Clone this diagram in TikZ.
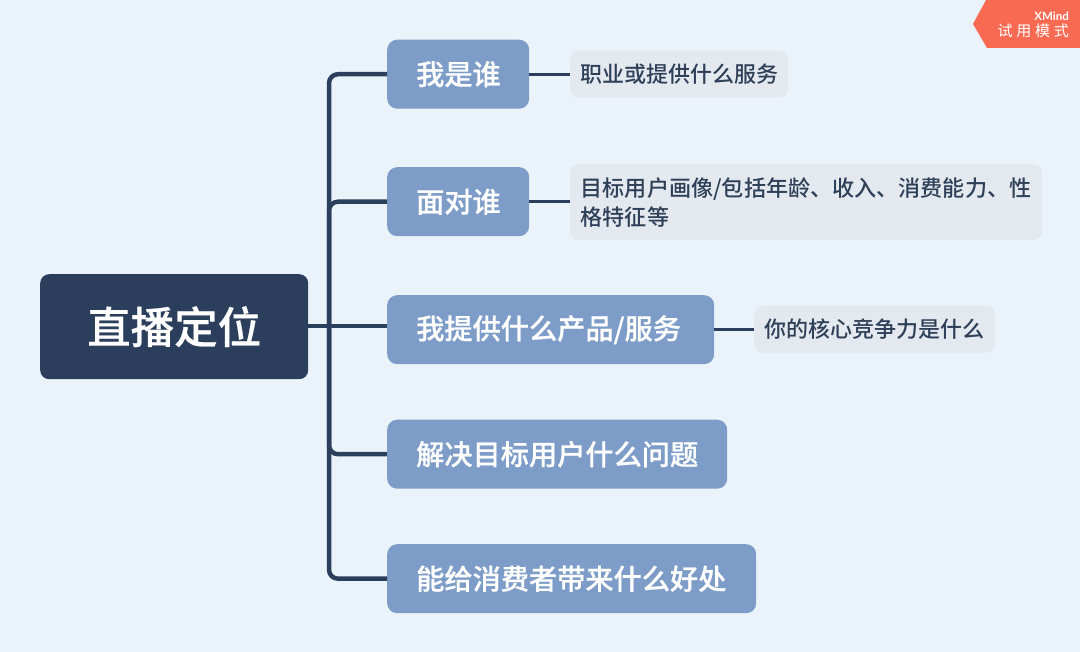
\documentclass[tikz,border=0pt]{standalone}
\usepackage{fontspec}
\setmainfont{Noto Sans CJK SC}
\newfontfamily\medfont{Noto Sans CJK SC Medium}
\newfontfamily\semifont[FakeBold=0.5]{Noto Sans CJK SC Medium}
\newfontfamily\latinfont{Lato}
\definecolor{bgc}{HTML}{EBF3FA}
\definecolor{rootc}{HTML}{2B3F5C}
\definecolor{mainc}{HTML}{7D9DC8}
\definecolor{subc}{HTML}{E4E9F0}
\definecolor{subt}{HTML}{2E3F58}
\definecolor{badge}{HTML}{F96A52}
\tikzset{
  x=1pt,y=-1pt,
  rootbox/.style={fill=rootc,rounded corners=9pt,text=white,font=\semifont\fontsize{43.5}{50}\selectfont,anchor=north west,inner sep=0pt,align=center},
  mainbox/.style={fill=mainc,rounded corners=10pt,text=white,font=\semifont\fontsize{28.2}{32}\selectfont,anchor=north west,inner ysep=0pt,inner xsep=29pt,align=left},
  subbox/.style={fill=subc,rounded corners=9pt,text=subt,font=\medfont\fontsize{22}{29}\selectfont,anchor=north west,inner ysep=0pt,inner xsep=10.5pt,align=left},
  trunk/.style={draw=rootc,line width=4.5pt,rounded corners=9pt},
  twig/.style={draw=rootc,line width=3pt},
}
\begin{document}
\begin{tikzpicture}
\useasboundingbox[fill=bgc] (0,0) rectangle (1080,652);
\node[rootbox,minimum width=268pt,minimum height=105pt] (root) at (40,274) {直播定位};
\node[mainbox,text width=84pt,minimum height=69pt] (a) at (387,39.5) {我是谁};
\node[mainbox,text width=84pt,minimum height=69pt] (b) at (387,167) {面对谁};
\node[mainbox,text width=269pt,minimum height=69pt] (c) at (387,295) {我提供什么产品/服务};
\node[mainbox,text width=282pt,minimum height=69pt] (d) at (387,419.5) {解决目标用户什么问题};
\node[mainbox,text width=311pt,minimum height=69pt] (e) at (387,544) {能给消费者带来什么好处};
\node[subbox,text width=197pt,minimum height=47pt] (a1) at (570,50.5) {职业或提供什么服务};
\node[subbox,text width=451pt,minimum height=76pt] (b1) at (570,164) {\fontsize{22.1}{29}\selectfont 目标用户画像/包括年龄、收入、消费能力、性\\格特征等};
\node[subbox,text width=220pt,minimum height=47pt] (c1) at (754,305.5) {你的核心竞争力是什么};
\coordinate (j) at (329,326);
\draw[trunk] (root.east |- j) -- (c.west |- j);
\draw[trunk] (a.west) -- (j |- a.west) -- (j |- e.west) -- (e.west);
\draw[trunk] (b.west) -- (j |- b.west) -- (j |- c.west);
\draw[trunk] (d.west) -- (j |- d.west) -- (j |- c.west);
\draw[twig] (a.east) -- (a1.west |- a.east);
\draw[twig] (b.east) -- (b1.west |- b.east);
\draw[twig] (c.east) -- (c1.west |- c.east);
\fill[badge] (986,0) -- (1080,0) -- (1080,48) -- (987,48) -- (973,24) -- cycle;
\node[text=white,anchor=east,inner sep=0pt,font=\latinfont\fontsize{11.5}{12}\selectfont\bfseries] (xm) at (1069,16.5) {XMind};
\node[text=white,anchor=east,inner sep=0pt,font=\fontsize{15}{18}\selectfont] (xt) at (1069,31) {试\kern3.7pt 用\kern3.7pt 模\kern3.7pt 式};
\end{tikzpicture}
\end{document}
